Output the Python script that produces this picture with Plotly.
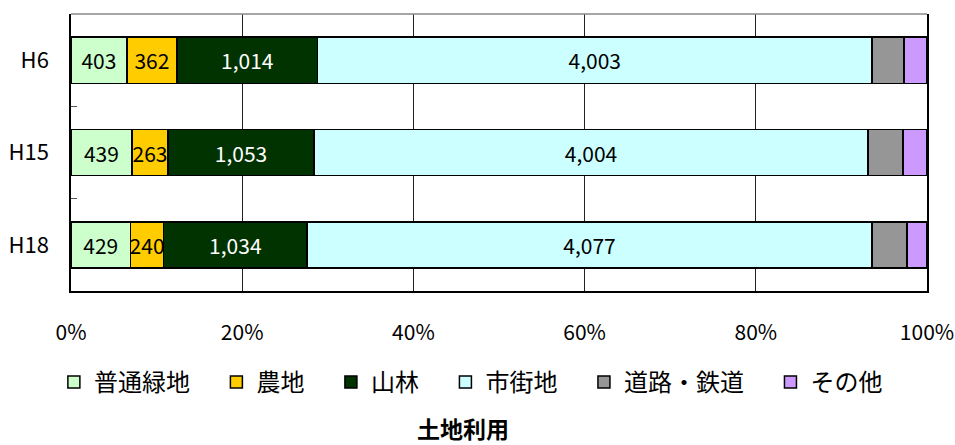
import plotly.graph_objects as go

categories = ["H6", "H15", "H18"]
series_names = ["普通緑地", "農地", "山林", "市街地", "道路・鉄道", "その他"]
greens = [403, 439, 429]
farm = [362, 263, 240]
forest = [1014, 1053, 1034]
urban = [4003, 4004, 4077]
road = [231, 253, 253]
other = [166, 173, 144]
show_label = [True, True, True, True, False, False]
colors = ["#CCFFCC", "#FFCC00", "#003300", "#CCFFFF", "#969696", "#CC99FF"]
text_colors = ["black", "black", "white", "black", "black", "black"]
x_ticks = [0, 20, 40, 60, 80, 100]

FONT = "Noto Sans CJK JP"
all_series = [greens, farm, forest, urban, road, other]
PAD = "\u00a0" * 4

fig = go.Figure()
for name, vals, col, tc, lab in zip(series_names, all_series, colors, text_colors, show_label):
    fig.add_trace(go.Bar(
        y=categories, x=vals, name=name + PAD, orientation="h",
        marker=dict(color=col, line=dict(color="black", width=1.5)),
        text=[f"{v:,}" for v in vals] if lab else None,
        textposition="inside", insidetextanchor="middle", constraintext="none",
        textangle=0,
        textfont=dict(color=tc, size=21, family=FONT),
        width=0.5, hoverinfo="skip",
    ))

fig.update_layout(
    barmode="stack", barnorm="percent",
    width=955, height=445,
    margin=dict(l=71, r=28, t=14, b=154, autoexpand=False),
    plot_bgcolor="white", paper_bgcolor="white",
    font=dict(family=FONT, color="black"),
    showlegend=True,
    legend=dict(orientation="h", x=-0.02, xanchor="left", y=-0.33, yanchor="middle",
                font=dict(size=24, family=FONT), traceorder="normal",
                itemclick=False, itemdoubleclick=False),
    xaxis=dict(range=[0, 100], tickvals=x_ticks, ticktext=[f"{t}%" for t in x_ticks],
               showgrid=True, gridcolor="#222222", gridwidth=1,
               showline=True, linecolor="black", linewidth=1.5,
               ticks="", ticklabelstandoff=22, tickfont=dict(size=21, family=FONT),
               zeroline=False, fixedrange=True, automargin=False),
    yaxis=dict(categoryorder="array", categoryarray=categories, range=[2.5, -0.5],
               showline=True, mirror=True, linecolor="black", linewidth=1.5,
               ticks="inside", tickson="boundaries", ticklen=6, tickcolor="#555555",
               ticklabelstandoff=16, tickfont=dict(size=22, family=FONT),
               showgrid=False, fixedrange=True, automargin=False),
    shapes=[dict(type="line", xref="paper", yref="paper", x0=0, x1=1, y0=1, y1=1,
                 line=dict(color="#888888", width=1.5))],
    annotations=[dict(text="<b>土地利用</b>", xref="paper", yref="paper", x=0.458, y=-0.495,
                      xanchor="center", yanchor="middle", showarrow=False,
                      font=dict(size=23, family=FONT))],
)

fig.write_html("out.html", config={"displayModeBar": False},
               post_script="document.body.style.margin='0';")
